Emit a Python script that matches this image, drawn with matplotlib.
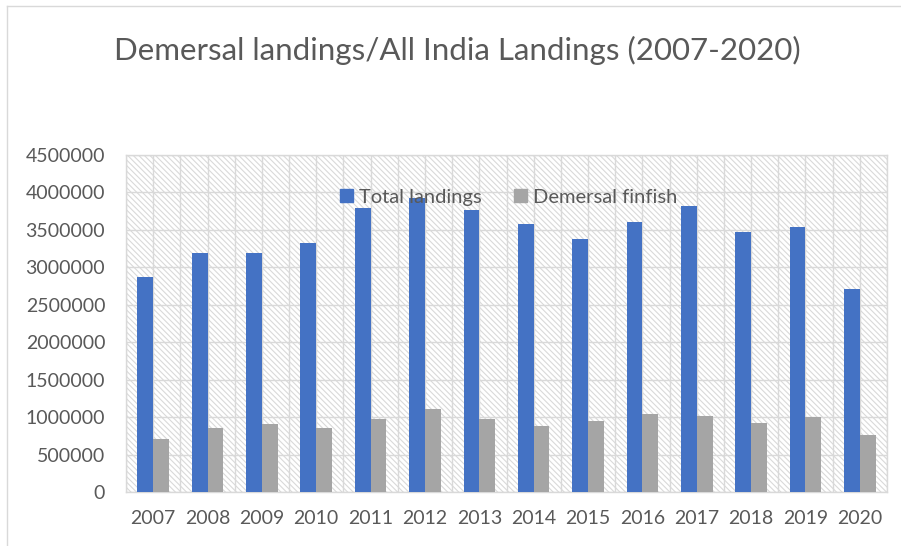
import matplotlib.pyplot as plt
import numpy as np
from matplotlib.patches import Rectangle, Patch
from matplotlib.lines import Line2D

years = ['2007', '2008', '2009', '2010', '2011', '2012', '2013',
         '2014', '2015', '2016', '2017', '2018', '2019', '2020']
total_landings = [2867000, 3196000, 3185000, 3331000, 3798000, 3920000, 3762000,
                  3575000, 3384000, 3606000, 3815000, 3468000, 3539000, 2708000]
demersal_finfish = [711000, 854000, 907000, 849000, 978000, 1107000, 974000,
                    885000, 951000, 1045000, 1009000, 925000, 1001000, 765000]

plt.rcParams['font.family'] = ['Lato', 'DejaVu Sans']
plt.rcParams['hatch.linewidth'] = 0.8
text_color = '#595959'
grid_color = '#d9d9d9'

fig = plt.figure(figsize=(9.01, 5.46), dpi=100)
ax = fig.add_axes([126 / 901, 1 - 492 / 546, (887 - 126) / 901, (492 - 155) / 546])

# hatched plot-area background
ax.add_patch(Rectangle((0, 0), 1, 1, transform=ax.transAxes, facecolor='white',
                       edgecolor='#d9d9d9', hatch='\\\\\\\\\\\\', linewidth=0, zorder=0))

x = np.arange(len(years))
w = 0.29
ax.bar(x - w / 2, total_landings, w, color='#4472C4', zorder=3, label='Total landings')
ax.bar(x + w / 2, demersal_finfish, w, color='#A5A5A5', zorder=3, label='Demersal finfish')

ax.set_xlim(-0.5, len(years) - 0.5)
ax.set_ylim(0, 4500000)
ax.set_yticks(np.arange(0, 4500001, 500000))
ax.set_yticklabels([str(v) for v in range(0, 4500001, 500000)])
ax.set_xticks(x)
ax.set_xticklabels(years)
ax.set_xticks(np.arange(-0.5, len(years), 1), minor=True)
ax.tick_params(axis='both', which='both', length=0, colors=text_color, labelsize=14)
ax.tick_params(axis='y', pad=15)
ax.tick_params(axis='x', pad=13)
ax.grid(True, which='both', axis='x', color=grid_color, linewidth=1, zorder=1)
ax.grid(True, which='major', axis='y', color=grid_color, linewidth=1, zorder=1)
ax.set_axisbelow(True)
for s in ax.spines.values():
    s.set_color(grid_color)
    s.set_linewidth(1)

handles = [Patch(color='#4472C4'), Patch(color='#A5A5A5')]
ax.legend(handles, ['Total landings', 'Demersal finfish'], ncol=2, frameon=False,
          loc='center', bbox_to_anchor=(0.503, 0.875), fontsize=14.5,
          handlelength=0.65, handleheight=0.65, handletextpad=0.3, columnspacing=1.6,
          labelcolor=text_color)

fig.text(0.508, 0.908, 'Demersal landings/All India Landings (2007-2020)',
         ha='center', va='center', fontsize=22.5, color=text_color)

# chart border
fig.add_artist(Line2D([7 / 901, 7 / 901], [0, 1 - 6 / 546], transform=fig.transFigure,
                      color=grid_color, linewidth=1))
fig.add_artist(Line2D([7 / 901, 1], [1 - 6 / 546, 1 - 6 / 546], transform=fig.transFigure,
                      color=grid_color, linewidth=1))

fig.savefig('out.png', dpi=100)
